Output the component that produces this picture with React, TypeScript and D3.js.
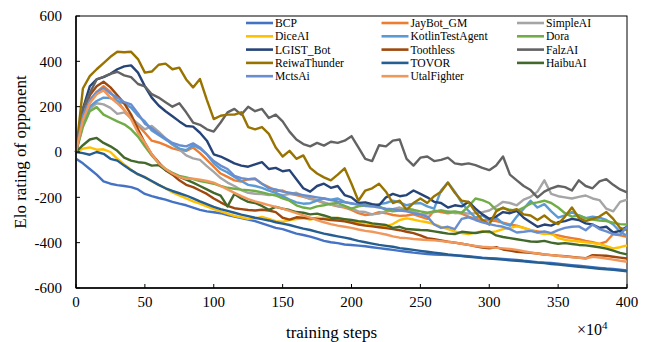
import React from "react";
import * as d3 from "d3";

const width = 649;
const height = 342;

const steps = d3.range(0, 401, 5);

const seriesNames = [
  "BCP", "JayBot_GM", "SimpleAI",
  "DiceAI", "KotlinTestAgent", "Dora",
  "LGIST_Bot", "Toothless", "FalzAI",
  "ReiwaThunder", "TOVOR", "HaibuAI",
  "MctsAi", "UtalFighter",
];

const seriesColors = [
  "#4472C4", "#ED7D31", "#A5A5A5",
  "#FFC000", "#5B9BD5", "#70AD47",
  "#264478", "#9E480E", "#636363",
  "#997300", "#255E91", "#43682B",
  "#698ED0", "#F1975A",
];

// Elo values, one every 5 (x10^4) steps
const bcp = [
  -30, -50, -75, -100, -130, -140, -146, -150, -155, -165,
  -185, -195, -203, -210, -220, -228, -235, -245, -255, -262,
  -266, -270, -278, -285, -292, -298, -305, -315, -325, -335,
  -340, -350, -360, -366, -373, -382, -392, -398, -402, -408,
  -410, -413, -416, -420, -424, -428, -432, -436, -440, -444,
  -447, -450, -452, -454, -455, -457, -458, -460, -463, -466,
  -468, -470, -472, -474, -476, -480, -483, -486, -488, -490,
  -493, -496, -499, -502, -505, -508, -511, -514, -516, -519,
  -522,
];
const jayBot = [
  0, 130, 220, 265, 290, 265, 225, 185, 150, 118,
  85, 50, 42, 30, 16, 8, 5, 20, -5, -35,
  -65, -95, -110, -125, -130, -120, -118, -140, -155, -172,
  -170, -185, -190, -198, -205, -215, -225, -232, -240, -245,
  -255, -270, -278, -275, -265, -270, -278, -282, -280, -275,
  -285, -295, -258, -265, -270, -265, -272, -285, -295, -300,
  -302, -305, -312, -320, -325, -335, -345, -350, -355, -362,
  -368, -375, -380, -385, -392, -398, -405, -395, -362, -368,
  -374,
];
const simpleAI = [
  0, 120, 190, 215, 210, 195, 168, 175, 150, 125,
  100, 115, 90, 60, 32, 12, -15, -28, -35, -62,
  -88, -115, -135, -150, -168, -180, -184, -186, -190, -188,
  -190, -186, -180, -195, -208, -212, -222, -232, -238, -242,
  -250, -262, -265, -275, -272, -262, -252, -245, -255, -262,
  -275, -272, -265, -258, -262, -270, -268, -272, -270, -265,
  -258, -240, -220, -225, -235, -210, -198, -175, -125, -185,
  -195, -200, -205, -198, -192, -205, -212, -250, -262, -220,
  -210,
];
const diceAI = [
  0, 15, 20, 10, 12, 0, -30, -55, -78, -100,
  -110, -130, -145, -160, -178, -192, -205, -218, -228, -240,
  -252, -262, -272, -282, -288, -295, -293, -286, -295, -305,
  -308, -300, -296, -292, -298, -290, -292, -295, -290, -298,
  -305, -312, -320, -322, -325, -328, -318, -300, -293, -298,
  -305, -310, -318, -330, -340, -350, -358, -362, -355, -350,
  -355, -350, -340, -335, -328, -335, -345, -355, -362, -360,
  -380, -388, -392, -395, -398, -402, -406, -415, -425, -420,
  -412,
];
const kotlin = [
  0, 130, 200, 225, 240, 238, 225, 215, 195, 160,
  135, 95, 75, 55, 35, 15, 8, 30, 15, -10,
  -50, -75, -90, -110, -128, -145, -150, -158, -170, -180,
  -195, -210, -222, -228, -226, -215, -205, -210, -205, -220,
  -228, -232, -238, -240, -230, -225, -215, -222, -235, -228,
  -225, -240, -250, -170, -135, -175, -225, -260, -290, -280,
  -300, -290, -315, -325, -285, -250, -215, -245, -230, -262,
  -290, -280, -265, -280, -292, -285, -290, -300, -320, -352,
  -370,
];
const dora = [
  0, 110, 180, 198, 165, 150, 135, 122, 100, 68,
  25, -15, -50, -75, -92, -105, -112, -120, -128, -134,
  -140, -150, -158, -162, -166, -168, -172, -178, -186, -192,
  -205, -215, -235, -245, -250, -240, -235, -228, -225, -238,
  -250, -240, -235, -232, -240, -255, -262, -258, -250, -255,
  -262, -268, -262, -258, -265, -262, -268, -240, -205, -212,
  -225, -255, -248, -255, -260, -245, -228, -222, -215, -225,
  -245, -270, -285, -280, -292, -298, -302, -305, -312, -318,
  -320,
];
const lgist = [
  0, 190, 290, 320, 330, 345, 365, 378, 382, 350,
  290, 240, 205, 180, 158, 135, 115, 112, 85, 50,
  -10, -20, -35, -50, -60, -65, -55, -45, -75, -70,
  -85, -80, -120, -160, -175, -150, -140, -158, -150, -190,
  -200, -225, -222, -230, -235, -200, -185, -195, -190, -170,
  -185, -200, -220, -225, -245, -235, -240, -220, -250, -275,
  -295, -285, -265, -270, -260, -290, -310, -330, -320, -325,
  -310, -305, -295, -300, -315, -320, -335, -330, -355, -348,
  -330,
];
const toothless = [
  0, 150, 250, 290, 310, 285, 250, 215, 165, 100,
  40, -10, -45, -80, -100, -125, -145, -155, -170, -185,
  -205, -222, -238, -248, -252, -256, -258, -255, -258, -265,
  -290, -298, -288, -290, -292, -295, -296, -300, -302, -306,
  -312, -320, -325, -328, -332, -336, -340, -345, -352, -358,
  -368, -380, -385, -390, -396, -400, -405, -410, -416, -422,
  -425, -420, -430, -435, -440, -442, -445, -448, -452, -455,
  -458, -460, -463, -466, -469, -455, -456, -458, -462, -466,
  -470,
];
const falzAI = [
  0, 190, 260, 320, 332, 345, 354, 338, 330, 300,
  290, 255, 240, 220, 200, 215, 175, 130, 120, 100,
  90, 130, 175, 190, 165, 200, 180, 190, 150, 165,
  135, 90, 55, 35, 25, 40, 28, 45, 40, 50,
  70, 20, -30, -40, 30, 25, 50, 55, -30, -60,
  -25, -20, -40, -35, -25, -50, -55, -50, -58, -70,
  -80, -60, -20, -100, -125, -150, -168, -200, -175, -160,
  -150, -155, -170, -125, -150, -160, -130, -120, -145, -165,
  -178,
];
const reiwa = [
  0, 280, 335, 365, 392, 420, 442, 440, 442, 410,
  350, 355, 385, 390, 365, 372, 320, 285, 322, 230,
  145, 160, 165, 165, 175, 110, 100, 110, 80, 20,
  -20, 5, -30, -15, -70, -95, -112, -125, -100, -72,
  -140, -215, -170, -160, -140, -175, -225, -215, -255, -225,
  -205, -225, -195, -175, -135, -180, -215, -220, -265, -300,
  -320, -262, -245, -260, -252, -275, -280, -300, -280, -305,
  -318, -285, -245, -290, -305, -295, -285, -265, -295, -335,
  -345,
];
const tovor = [
  0, -5, -12, 0, -8, -30, -38, -60, -80, -98,
  -112, -128, -145, -160, -172, -182, -192, -205, -218, -230,
  -242, -252, -260, -268, -276, -283, -290, -296, -302, -310,
  -316, -322, -330, -338, -344, -352, -360, -366, -372, -378,
  -384, -392, -398, -404, -410, -414, -418, -424, -428, -432,
  -436, -440, -444, -448, -452, -455, -459, -462, -465, -468,
  -470, -472, -475, -478, -480, -482, -485, -488, -490, -494,
  -497, -500, -503, -506, -509, -512, -515, -517, -520, -523,
  -526,
];
const haibuAI = [
  0, 30, 55, 62, 40, 25, 5, -25, -38, -45,
  -48, -60, -58, -80, -95, -110, -122, -135, -150, -165,
  -180, -192, -240, -185, -205, -220, -225, -238, -255, -242,
  -250, -256, -265, -268, -275, -272, -280, -290, -292, -296,
  -300, -305, -308, -315, -318, -322, -335, -330, -340, -342,
  -344, -345, -350, -355, -360, -362, -352, -355, -358, -352,
  -350, -368, -375, -380, -385, -390, -395, -396, -392, -400,
  -405, -402, -406, -410, -412, -416, -420, -426, -435, -445,
  -452,
];
const mctsAi = [
  0, 160, 230, 265, 282, 258, 240, 220, 210, 170,
  125, 105, 80, 60, 40, 30, 25, 38, 20, -10,
  -40, -60, -75, -105, -115, -120, -118, -140, -160, -165,
  -175, -180, -185, -190, -195, -200, -205, -212, -218, -222,
  -226, -232, -236, -240, -245, -250, -252, -258, -262, -270,
  -275, -285, -320, -335, -330, -340, -295, -288, -300, -310,
  -318, -325, -330, -340, -355, -352, -348, -355, -350, -358,
  -345, -335, -330, -328, -345, -320, -340, -350, -362, -365,
  -330,
];
const utalFighter = [
  0, 140, 215, 255, 272, 240, 215, 185, 145, 85,
  40, -10, -50, -75, -95, -110, -118, -118, -122, -128,
  -135, -150, -165, -180, -195, -208, -218, -226, -234, -242,
  -250, -260, -270, -280, -290, -300, -310, -318, -325, -330,
  -335, -342, -348, -352, -358, -364, -372, -378, -380, -384,
  -386, -388, -390, -393, -396, -400, -405, -410, -415, -418,
  -420, -423, -425, -428, -432, -438, -443, -448, -452, -455,
  -458, -461, -464, -467, -470, -462, -466, -470, -475, -480,
  -484,
];

const seriesValues = [
  bcp, jayBot, simpleAI, diceAI, kotlin, dora, lgist,
  toothless, falzAI, reiwa, tovor, haibuAI, mctsAi, utalFighter,
];

const xTicks = [0, 50, 100, 150, 200, 250, 300, 350, 400];
const yTicks = [-600, -400, -200, 0, 200, 400, 600];

const margin = { left: 76, right: 22, top: 16, bottom: 54 };
const font = "'Liberation Serif', 'Times New Roman', serif";

const App = () => {
  const x = d3.scaleLinear().domain([0, 400]).range([margin.left, width - margin.right]);
  const y = d3.scaleLinear().domain([-600, 600]).range([height - margin.bottom, margin.top]);

  const line = d3
    .line<number>()
    .x((_, i) => x(steps[i]))
    .y((d) => y(d));

  const x0 = x(0);
  const x1 = x(400);
  const yTop = y(600);
  const yBot = y(-600);

  return (
    <svg
      width={width}
      height={height}
      style={{ position: "absolute", left: 0, top: 0, background: "#fff" }}
      fontFamily={font}
    >
      {/* plot frame */}
      <rect x={x0} y={yTop} width={x1 - x0} height={yBot - yTop} fill="none" stroke="#000" strokeWidth={1} />

      {/* series, first one drawn at the bottom */}
      {seriesValues.map((vals, i) => (
        <path
          key={seriesNames[i]}
          d={line(vals) || ""}
          fill="none"
          stroke={seriesColors[i]}
          strokeWidth={2.4}
          strokeLinejoin="round"
        />
      ))}

      {/* axes */}
      <line x1={x0} x2={x0} y1={yTop} y2={yBot} stroke="#000" strokeWidth={1.5} />
      <line x1={x0} x2={x1} y1={yBot} y2={yBot} stroke="#000" strokeWidth={1.5} />

      {xTicks.map((t) => (
        <g key={"x" + t}>
          <line x1={x(t)} x2={x(t)} y1={yBot} y2={yBot - 4} stroke="#000" />
          <text x={x(t)} y={yBot + 19} textAnchor="middle" fontSize={15} fill="#000">
            {t}
          </text>
        </g>
      ))}

      {yTicks.map((t) => (
        <g key={"y" + t}>
          <line x1={x0} x2={x0 + 4} y1={y(t)} y2={y(t)} stroke="#000" />
          <text x={x0 - 14} y={y(t)} dy="0.35em" textAnchor="end" fontSize={15} fill="#000">
            {t}
          </text>
        </g>
      ))}

      <text
        transform={`translate(20,${y(0)}) rotate(-90)`}
        textAnchor="middle"
        dy="0.35em"
        fontSize={17}
        fill="#000"
      >
        Elo rating of opponent
      </text>
      <text x={(x0 + x1) / 2 - 20} y={338} textAnchor="middle" fontSize={17} fill="#000">
        training steps
      </text>
      <text x={577} y={335} fontSize={16} fill="#000">
        ×10<tspan dy={-6} fontSize={11}>4</tspan>
      </text>

      {/* legend, three columns */}
      {seriesNames.map((name, i) => {
        const col = i % 3;
        const row = Math.floor(i / 3);
        const lx = 246 + col * 135.5;
        const ly = 23 + row * 13.3;
        return (
          <g key={"lg" + name}>
            <line x1={lx} x2={lx + 27} y1={ly} y2={ly} stroke={seriesColors[i]} strokeWidth={2.6} />
            <text x={lx + 29} y={ly} dy="0.35em" fontSize={11.6} fill="#000">
              {name}
            </text>
          </g>
        );
      })}
    </svg>
  );
};

export default App;
